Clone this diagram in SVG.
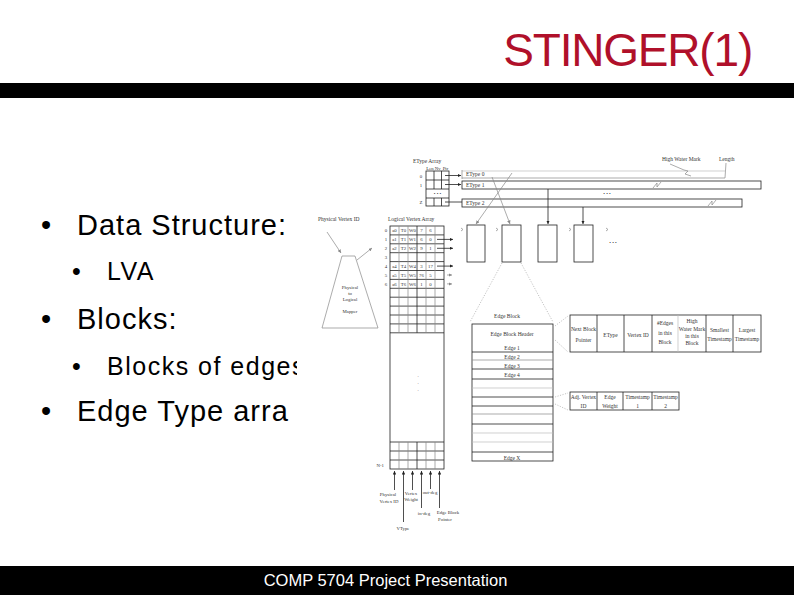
<svg xmlns="http://www.w3.org/2000/svg" width="794" height="595" viewBox="0 0 794 595">
<defs>
<marker id="ah" viewBox="0 0 6 6" refX="6" refY="3" markerWidth="3.5" markerHeight="3.5" orient="auto" markerUnits="userSpaceOnUse"><path d="M0,0 L6,3 L0,6 z" fill="#222"/></marker>
<marker id="ahg" viewBox="0 0 6 6" refX="6" refY="3" markerWidth="3.5" markerHeight="3.5" orient="auto" markerUnits="userSpaceOnUse"><path d="M0,0 L6,3 L0,6 z" fill="#888"/></marker>
</defs>
<style>
.t1{font-family:"Liberation Sans",Arial,sans-serif;font-size:29px;letter-spacing:1px;fill:#000}
.t2{font-family:"Liberation Sans",Arial,sans-serif;font-size:25px;letter-spacing:1.5px;fill:#000}
.d{font-family:"Liberation Serif","Times New Roman",serif;font-size:5.5px;fill:#333}
.s{font-family:"Liberation Serif","Times New Roman",serif;font-size:4.8px;fill:#333;text-anchor:middle}
.m{text-anchor:middle}
.ln{stroke:#222;stroke-width:0.8;fill:none}
.lg{stroke:#888;stroke-width:0.7;fill:none}
.ll{stroke:#bbb;stroke-width:0.7;fill:none}
.dot{stroke:#aaa;stroke-width:0.7;stroke-dasharray:1.2 1.4;fill:none}
</style>

<rect x="0" y="0" width="794" height="595" fill="#fff"/>

<g id="title">
<text x="752" y="66" text-anchor="end" font-family="'Liberation Sans',Arial,sans-serif" font-size="46" letter-spacing="-1.2" fill="#B0102A">STINGER(1)</text>
<rect x="0" y="83" width="794" height="15" fill="#000"/>
</g>

<g id="bullets">
<text class="t1" x="41" y="235">•</text><text class="t1" x="77" y="235">Data Structure:</text>
<text class="t2" x="72" y="280">•</text><text class="t2" x="107" y="280">LVA</text>
<text class="t1" x="41" y="329">•</text><text class="t1" x="77" y="329">Blocks:</text>
<text class="t2" x="72" y="375">•</text><text class="t2" x="107" y="375">Blocks of edges</text>
<text class="t1" x="41" y="421">•</text><text class="t1" x="77" y="421">Edge Type arra</text>
</g>

<g id="footer">
<rect x="0" y="566" width="794" height="29" fill="#000"/>
<text x="385.5" y="586" text-anchor="middle" font-family="'Liberation Sans',Arial,sans-serif" font-size="16.5" fill="#fff">COMP 5704 Project Presentation</text>
</g>

<rect id="figure-bg" x="297" y="150" width="473" height="395" fill="#fff"/>

<g id="etype-array">
<text class="d" x="413" y="163">EType Array</text>
<text class="s" x="430" y="169.5">Len</text><text class="s" x="437.8" y="169.5">Nv</text><text class="s" x="445.5" y="169.5">Ptr</text>
<rect x="426" y="171" width="23" height="35" class="ln"/>
<path class="ln" d="M426,180H449M426,189H449M426,198H449M434,171V189M441.5,171V189M434,198V206M441.5,198V206"/>
<text class="s" x="437.5" y="194.5">• • •</text>
<text class="s" x="421" y="177.5">0</text><text class="s" x="421" y="186.5">1</text><text class="s" x="421" y="204">Z</text>
</g>

<g id="etype-0">
<path class="ll" d="M462,171H725"/>
<path class="lg" d="M462,178H725M462,170V179"/>
<text class="d" x="466" y="176">EType 0</text>
</g>
<g id="etype-1">
<rect x="462" y="181" width="299" height="8" class="ln" stroke="#444"/>
<text class="d" x="466" y="187.3">EType 1</text>
<path class="lg" d="M653,188L657,183L657,187L661,182"/>
</g>
<text class="s" x="607" y="194.5">• • •</text>
<g id="etype-2">
<rect x="462" y="199" width="280" height="8" class="ln" stroke="#444"/>
<text class="d" x="466" y="205.3">EType 2</text>
<path class="lg" d="M708,206L712,201L712,205L716,200"/>
</g>
<g id="labels-top">
<text class="d" x="662" y="161">High Water Mark</text>
<text class="d" x="719" y="161">Length</text>
</g>

<g id="blocks">
<rect x="467" y="225" width="18" height="37" class="ln"/>
<rect x="502" y="225" width="19" height="37" class="ln"/>
<rect x="538" y="225" width="19" height="37" class="ln"/>
<rect x="574" y="225" width="19" height="37" class="ln"/>
<text class="s" x="613" y="244">• • •</text>
<path class="lg" d="M461,228L463,229.5L461,231M496,228L498,229.5L496,231M569,228L571,229.5L569,231M606,228L608,229.5L606,231"/>
</g>

<g id="mapper">
<text class="d" x="318" y="221">Physical Vertex ID</text>
<polygon points="342,256 355,256 378,328 322,328" class="lg"/>
<text class="s" x="350" y="289">Physical</text>
<text class="s" x="350" y="295">to</text>
<text class="s" x="350" y="301">Logical</text>
<text class="s" x="350" y="313">Mapper</text>
</g>

<g id="lva">
<text class="d" x="388" y="221">Logical Vertex Array</text>
<rect x="390" y="226" width="54" height="243" class="ln"/>
<path class="ln" d="M390,234.9H444M390,243.8H444M390,252.7H444M390,261.6H444M390,270.5H444M390,279.4H444M390,288.3H444M390,297.2H444M390,306.1H444M390,315H444M390,323.9H444M390,332.8H444M390,442H444M390,451H444M390,460H444M417,226V332.8M417,442V469"/>
<path class="lg" d="M399,226V332.8M408,226V332.8M426,226V332.8M435,226V332.8M399,442V469M408,442V469M426,442V469M435,442V469"/>
<text class="s" x="418" y="377">.</text><text class="s" x="418" y="384">.</text><text class="s" x="418" y="391">.</text>
<g class="s">
<text x="386" y="232.2">0</text><text x="386" y="241.1">1</text><text x="386" y="250">2</text><text x="386" y="258.9">3</text><text x="386" y="267.8">4</text><text x="386" y="276.7">5</text><text x="386" y="285.6">6</text>
<text x="394.5" y="232.2">a0</text><text x="403.5" y="232.2">T0</text><text x="412.5" y="232.2">W0</text><text x="421.5" y="232.2">7</text><text x="430.5" y="232.2">6</text>
<text x="394.5" y="241.1">a1</text><text x="403.5" y="241.1">T1</text><text x="412.5" y="241.1">W1</text><text x="421.5" y="241.1">6</text><text x="430.5" y="241.1">0</text>
<text x="394.5" y="250">a2</text><text x="403.5" y="250">T2</text><text x="412.5" y="250">W2</text><text x="421.5" y="250">9</text><text x="430.5" y="250">1</text>
<text x="394.5" y="267.8">a4</text><text x="403.5" y="267.8">T4</text><text x="412.5" y="267.8">W4</text><text x="421.5" y="267.8">3</text><text x="430.5" y="267.8">17</text>
<text x="394.5" y="276.7">a5</text><text x="403.5" y="276.7">T5</text><text x="412.5" y="276.7">W5</text><text x="421.5" y="276.7">76</text><text x="430.5" y="276.7">5</text>
<text x="394.5" y="285.6">a6</text><text x="403.5" y="285.6">T6</text><text x="412.5" y="285.6">W6</text><text x="421.5" y="285.6">1</text><text x="430.5" y="285.6">0</text>
</g>
<text class="s" x="384" y="467" style="text-anchor:end">N-1</text>
</g>

<g id="lva-fields">
<text class="s" x="388" y="496">Physical</text><text class="s" x="389" y="502.5">Vertex ID</text>
<text class="s" x="403" y="529.5">VType</text>
<text class="s" x="411" y="495">Vertex</text><text class="s" x="411" y="501">Weight</text>
<text class="s" x="424" y="514.5">in-deg</text>
<text class="s" x="430" y="493.5">out-deg</text>
<text class="s" x="448" y="514">Edge Block</text><text class="s" x="445" y="521">Pointer</text>
</g>

<g id="edge-block">
<text class="d m" x="507" y="317.5">Edge Block</text>
<rect x="472" y="324" width="81" height="137" class="ln"/>
<text class="d m" x="512" y="336">Edge Block Header</text>
<text class="d m" x="512" y="350">Edge 1</text>
<text class="d m" x="512" y="359">Edge 2</text>
<text class="d m" x="512" y="368">Edge 3</text>
<text class="d m" x="512" y="377">Edge 4</text>
<text class="d m" x="512" y="459.5">Edge X</text>
<path class="ln" d="M472,352H553M472,369H553M472,379H553M472,397H553M472,406H553M472,424H553M472,452H553"/>
<path class="lg" d="M472,360H553M472,414H553" stroke-width="1.4"/>
<path class="ll" d="M472,388H553M472,433H553M472,442H553"/>
</g>

<g id="header-detail">
<rect x="570" y="315" width="191" height="37" class="ln" stroke="#444"/>
<path class="ln" d="M597,315V352M624,315V352M652,315V352M706,315V352M733,315V352" stroke="#444"/>
<path class="ll" d="M678,315V352"/>
<text class="d m" x="583.5" y="331">Next Block</text><text class="d m" x="583.5" y="342">Pointer</text>
<text class="d m" x="610.5" y="337">EType</text>
<text class="d m" x="638" y="337">Vertex ID</text>
<text class="d m" x="665" y="325">#Edges</text><text class="d m" x="665" y="335">in this</text><text class="d m" x="665" y="344">Block</text>
<text class="d m" x="692" y="323">High</text><text class="d m" x="692" y="331">Water Mark</text><text class="d m" x="692" y="338">in this</text><text class="d m" x="692" y="345">Block</text>
<text class="d m" x="719.5" y="332">Smallest</text><text class="d m" x="719.5" y="341">Timestamp</text>
<text class="d m" x="747" y="332">Largest</text><text class="d m" x="747" y="341">Timestamp</text>
</g>

<g id="edge-detail">
<rect x="570" y="392" width="109" height="18" class="ln" stroke="#444"/>
<path class="ln" d="M597,392V410M623,392V410M652,392V410" stroke="#444"/>
<text class="d m" x="583.5" y="399">Adj. Vertex</text><text class="d m" x="583.5" y="408">ID</text>
<text class="d m" x="610" y="399">Edge</text><text class="d m" x="610" y="408">Weight</text>
<text class="d m" x="637.5" y="399">Timestamp</text><text class="d m" x="637.5" y="408">1</text>
<text class="d m" x="665.5" y="399">Timestamp</text><text class="d m" x="665.5" y="408">2</text>
</g>

<g id="connectors">
<path class="ln" d="M445,175.5H461" marker-end="url(#ah)"/>
<path class="ln" d="M445,184.5H461" marker-end="url(#ah)"/>
<path class="ln" d="M445,202H462" stroke-width="1"/>
<path class="lg" d="M670,164L684,170L688,171L685,174L691,176"/>
<path class="lg" d="M726,163L725,178"/>
<path class="lg" d="M512,173L476,224" marker-end="url(#ahg)"/>
<path class="lg" d="M492,177L510,224" marker-end="url(#ahg)"/>
<path class="ln" d="M548,189V224" stroke-width="1" marker-end="url(#ah)"/>
<path class="ln" d="M583,207V224" marker-end="url(#ah)"/>
<path class="ln" d="M437,239.4H453" marker-end="url(#ah)"/>
<path class="ln" d="M437,248.3H453" marker-end="url(#ah)"/>
<path class="ln" d="M437,266.1H453" marker-end="url(#ah)"/>
<path class="lg" d="M447,275H452" marker-end="url(#ahg)"/>
<path class="lg" d="M447,283.9H452" marker-end="url(#ahg)"/>
<path class="lg" d="M327,232L341,253" marker-end="url(#ahg)"/>
<path class="lg" d="M357,260L372,248" marker-end="url(#ahg)"/>
<path class="ln" d="M394.5,490V471" marker-end="url(#ah)"/>
<path class="ln" d="M403.5,522V471" marker-end="url(#ah)"/>
<path class="ln" d="M412.5,490V471" marker-end="url(#ah)"/>
<path class="ln" d="M421.5,508V471" marker-end="url(#ah)"/>
<path class="ln" d="M430.5,489V471" marker-end="url(#ah)"/>
<path class="ln" d="M439.5,508V471" marker-end="url(#ah)"/>
<path class="dot" d="M502,263L470,322M521,263L553,322"/>
<path class="dot" d="M555,326L568,316M555,340L568,352"/>
<path class="dot" d="M555,397L568,393M555,404L568,410"/>
</g>
</svg>
